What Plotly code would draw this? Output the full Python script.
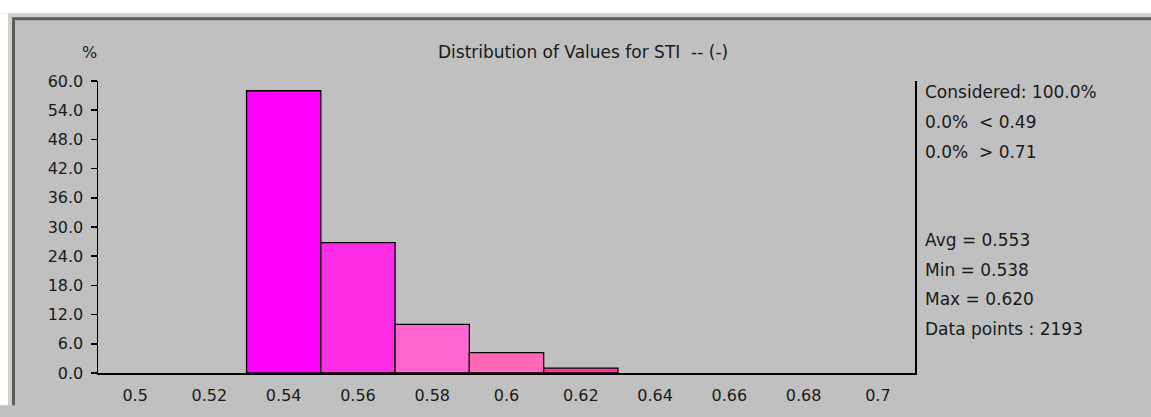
import plotly.graph_objects as go

# ---- data ----
bin_centers = [0.54, 0.56, 0.58, 0.60, 0.62]
percent = [58.0, 26.8, 10.0, 4.2, 1.0]
bar_colors = ["#FF00FF", "#FF2EE6", "#FF66D0", "#FF69B4", "#FF3399"]
bin_width = 0.02
y_tick_vals = [0, 6, 12, 18, 24, 30, 36, 42, 48, 54, 60]
y_tick_text = ["0.0", "6.0", "12.0", "18.0", "24.0", "30.0", "36.0", "42.0", "48.0", "54.0", "60.0"]
x_tick_vals = [0.50, 0.52, 0.54, 0.56, 0.58, 0.60, 0.62, 0.64, 0.66, 0.68, 0.70]
x_tick_text = ["0.5", "0.52", "0.54", "0.56", "0.58", "0.6", "0.62", "0.64", "0.66", "0.68", "0.7"]
title_text = "Distribution of Values for STI  -- (-)"
stats_top = ["Considered: 100.0%", "0.0%  < 0.49", "0.0%  > 0.71"]
stats_bottom = ["Avg = 0.553", "Min = 0.538", "Max = 0.620", "Data points : 2193"]

# ---- layout geometry (page pixels) ----
W, H = 1151, 417
L, R, T, B = 98, 915, 81, 388          # plot box in page pixels
FONT = "DejaVu Sans"
FS_TICK = 16
FS_TEXT = 17
TXT = "#1a1a1a"
BG = "#C0C0C0"


def px(x):
    return (x - L) / (R - L)


def py(y):
    return (B - y) / (B - T)


fig = go.Figure()
fig.add_trace(go.Bar(
    x=bin_centers, y=percent, width=bin_width,
    marker=dict(color=bar_colors, line=dict(color="#000000", width=1.3)),
    hoverinfo="skip",
))

shapes = []
# window frame: white band, beige band, dark line (top and left)
shapes.append(dict(type="rect", xref="paper", yref="paper", x0=px(-5), x1=px(W + 5), y0=py(-5), y1=py(10),
                   fillcolor="#FFFFFF", line=dict(width=0), layer="below"))
shapes.append(dict(type="rect", xref="paper", yref="paper", x0=px(-5), x1=px(8), y0=py(10), y1=py(H + 5),
                   fillcolor="#FFFFFF", line=dict(width=0), layer="below"))
shapes.append(dict(type="rect", xref="paper", yref="paper", x0=px(8), x1=px(W + 5), y0=py(10), y1=py(14),
                   fillcolor="#D4D0C8", line=dict(width=0), layer="below"))
shapes.append(dict(type="rect", xref="paper", yref="paper", x0=px(8), x1=px(12), y0=py(14), y1=py(H + 5),
                   fillcolor="#D4D0C8", line=dict(width=0), layer="below"))
shapes.append(dict(type="rect", xref="paper", yref="paper", x0=px(12), x1=px(W + 5), y0=py(14), y1=py(17),
                   fillcolor="#5A5A5A", line=dict(width=0), layer="below"))
shapes.append(dict(type="rect", xref="paper", yref="paper", x0=px(12), x1=px(15), y0=py(17), y1=py(H + 5),
                   fillcolor="#5A5A5A", line=dict(width=0), layer="below"))

annotations = []
annotations.append(dict(text=title_text, xref="paper", yref="paper", x=px(583), y=py(50),
                        xanchor="center", yanchor="middle", showarrow=False,
                        font=dict(family=FONT, size=FS_TEXT, color=TXT)))
annotations.append(dict(text="%", xref="paper", yref="paper", x=px(89), y=py(51),
                        xanchor="center", yanchor="middle", showarrow=False,
                        font=dict(family=FONT, size=FS_TICK, color=TXT)))
for i, s in enumerate(stats_top):
    annotations.append(dict(text=s, xref="paper", yref="paper", x=px(923), y=py(93 + 31.5 * i),
                            xanchor="left", yanchor="middle", showarrow=False,
                            font=dict(family=FONT, size=FS_TEXT, color=TXT)))
for i, s in enumerate(stats_bottom):
    annotations.append(dict(text=s, xref="paper", yref="paper", x=px(923), y=py(248 + 31.3 * i),
                            xanchor="left", yanchor="middle", showarrow=False,
                            font=dict(family=FONT, size=FS_TEXT, color=TXT)))

fig.update_layout(
    width=W, height=H,
    margin=dict(l=L, r=W - R, t=T, b=H - B, pad=0),
    paper_bgcolor=BG, plot_bgcolor=BG,
    showlegend=False, bargap=0,
    shapes=shapes, annotations=annotations,
    font=dict(family=FONT, size=FS_TICK, color=TXT),
)
fig.update_xaxes(
    range=[0.49, 0.71], tickvals=x_tick_vals, ticktext=x_tick_text,
    showline=True, linecolor="#000000", linewidth=1.5, mirror=False,
    showgrid=False, zeroline=False, ticks="", ticklabelstandoff=7,
    tickfont=dict(family=FONT, size=FS_TICK, color=TXT),
)
fig.update_yaxes(
    range=[0, 60], tickvals=y_tick_vals, ticktext=y_tick_text,
    showline=True, linecolor="#000000", linewidth=1.5, mirror=True,
    showgrid=False, zeroline=False, ticks="outside", ticklen=6, tickcolor="#000000",
    tickwidth=1.5, ticklabelstandoff=4,
    tickfont=dict(family=FONT, size=FS_TICK, color=TXT),
)

fig.write_html(
    "out.html",
    config={"displayModeBar": False, "staticPlot": True},
    post_script=(
        "var de=document.documentElement, bd=document.body;"
        "de.style.margin='0'; de.style.padding='0'; de.style.overflow='hidden';"
        "de.style.background='" + BG + "';"
        "bd.style.margin='0'; bd.style.padding='0'; bd.style.overflow='hidden';"
        "bd.style.background='" + BG + "';"
        "var g=document.getElementById('{plot_id}');"
        "g.style.position='fixed'; g.style.left='0px'; g.style.top='0px';"
    ),
)
